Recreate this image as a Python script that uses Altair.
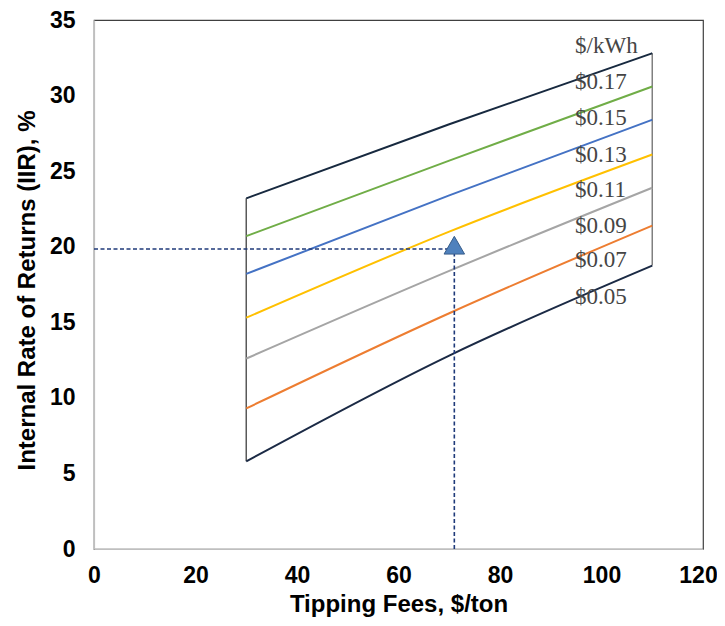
import altair as alt
import pandas as pd

# Data
fees = [30, 70, 110]
rates = ["$0.05", "$0.07", "$0.09", "$0.11", "$0.13", "$0.15", "$0.17"]
irr_005 = [5.8, 12.8, 18.75]
irr_007 = [9.3, 15.6, 21.4]
irr_009 = [12.6, 18.4, 23.9]
irr_011 = [15.3, 21.0, 26.1]
irr_013 = [18.2, 23.4, 28.4]
irr_015 = [20.7, 25.7, 30.6]
irr_017 = [23.2, 28.1, 32.8]
series = [irr_005, irr_007, irr_009, irr_011, irr_013, irr_015, irr_017]
colors = ["#1b2a45", "#ed7d31", "#a5a5a5", "#ffc000", "#4472c4", "#70ad47", "#17293f"]

label_text = ["$/kWh", "$0.17", "$0.15", "$0.13", "$0.11", "$0.09", "$0.07", "$0.05"]
label_x = [94.8, 94.8, 94.8, 94.8, 94.8, 94.8, 94.8, 94.8]
label_y = [33.3, 30.9, 28.5, 26.05, 23.75, 21.4, 19.15, 16.7]

target_fee = 71
target_irr = 19.85
marker_irr = 20.1

rows = []
for r, vals in zip(rates, series):
    for f, v in zip(fees, vals):
        rows.append({"fee": f, "irr": v, "rate": r})
df = pd.DataFrame(rows)

xs = alt.Scale(domain=[0, 120])
ys = alt.Scale(domain=[0, 35])

lines = alt.Chart(df).mark_line(strokeWidth=2, interpolate="monotone").encode(
    x=alt.X("fee:Q", scale=xs, title="Tipping Fees, $/ton",
            axis=alt.Axis(values=[0, 20, 40, 60, 80, 100, 120],
                          labelOffset={"condition": {"test": "datum.value == 120", "value": -5},
                                       "value": 0})),
    y=alt.Y("irr:Q", scale=ys, title="Internal Rate of Returns (IIR), %",
            axis=alt.Axis(values=[0, 5, 10, 15, 20, 25, 30, 35], titleY=270)),
    color=alt.Color("rate:N", scale=alt.Scale(domain=rates, range=colors), legend=None),
)

edges = pd.DataFrame({
    "fee": [fees[0], fees[-1]],
    "lo": [irr_005[0], irr_005[-1]],
    "hi": [irr_017[0], irr_017[-1]],
    "c": ["#595959", "#808080"],
})
edge_rules = alt.Chart(edges).mark_rule(strokeWidth=1.5).encode(
    x=alt.X("fee:Q", scale=xs), y=alt.Y("lo:Q", scale=ys), y2="hi:Q",
    color=alt.Color("c:N", scale=None),
)

hdash = alt.Chart(pd.DataFrame({"x0": [0], "x1": [target_fee], "y": [target_irr]})).mark_rule(
    strokeDash=[4, 2.5], strokeWidth=1.6, color="#1f3a7a").encode(
    x=alt.X("x0:Q", scale=xs), x2="x1:Q", y=alt.Y("y:Q", scale=ys))
vdash = alt.Chart(pd.DataFrame({"x": [target_fee], "y0": [0], "y1": [target_irr]})).mark_rule(
    strokeDash=[4, 2.5], strokeWidth=1.6, color="#1f3a7a").encode(
    x=alt.X("x:Q", scale=xs), y=alt.Y("y0:Q", scale=ys), y2="y1:Q")

marker = alt.Chart(pd.DataFrame({"x": [target_fee], "y": [marker_irr]})).mark_point(
    shape="triangle-up", filled=True, size=420, fill="#4f81bd", stroke="#385d8a",
    strokeWidth=1, opacity=1).encode(x=alt.X("x:Q", scale=xs), y=alt.Y("y:Q", scale=ys))

labels = alt.Chart(pd.DataFrame({"t": label_text, "x": label_x, "y": label_y})).mark_text(
    align="left", baseline="middle", font="Liberation Serif", fontSize=23, color="#454545").encode(
    x=alt.X("x:Q", scale=xs), y=alt.Y("y:Q", scale=ys), text="t:N")

chart = alt.layer(edge_rules, lines, hdash, vdash, marker, labels).properties(
    width=609, height=529,
    autosize=alt.AutoSizeParams(type="none"),
    padding={"left": 86, "top": 12, "right": 14, "bottom": 68},
).configure_view(stroke="#404040", strokeWidth=1.2).configure_axis(
    grid=False, ticks=False, domainColor="#bfbfbf", domainWidth=1.2, labelFlush=False,
    labelFont="Liberation Sans", labelFontWeight="bold", labelFontSize=23, labelColor="#000000",
    titleFont="Liberation Sans", titleFontWeight="bold", titleFontSize=24, titleColor="#000000",
).configure_axisY(labelPadding=19, titlePadding=10).configure_axisX(labelPadding=15, titlePadding=5)

chart.save("out.html", embed_options={"renderer": "svg", "actions": False})
